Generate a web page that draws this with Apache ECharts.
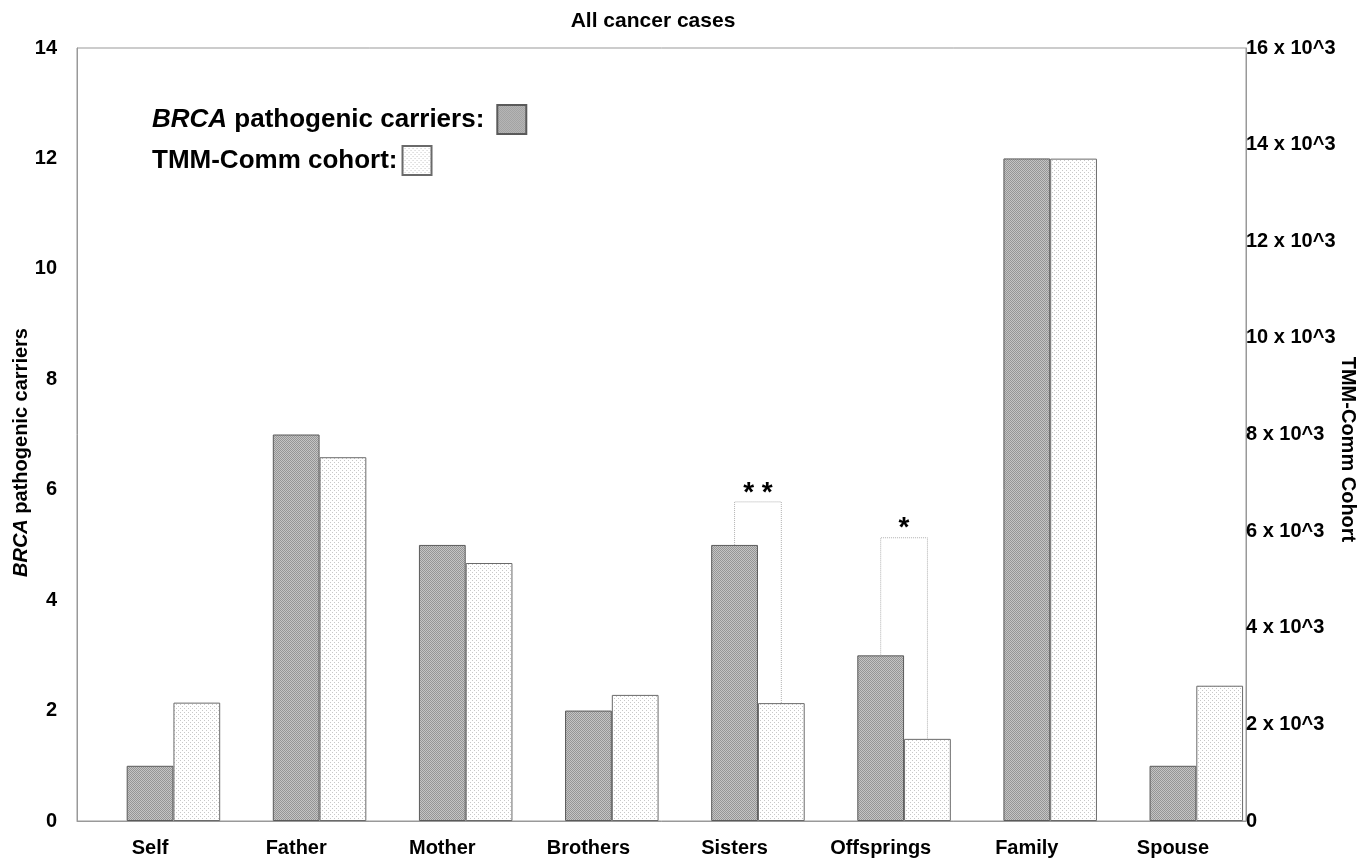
<!DOCTYPE html>
<html>
<head>
<meta charset="utf-8">
<script src="https://cdn.jsdelivr.net/npm/echarts@6/dist/echarts.min.js"></script>
<style>
html,body{margin:0;padding:0;background:#fff;}
#chart{width:1372px;height:858px;}
</style>
</head>
<body>
<div id="chart"></div>
<script>
const categories = ['Self', 'Father', 'Mother', 'Brothers', 'Sisters', 'Offsprings', 'Family', 'Spouse'];
const carriers = [1, 7, 5, 2, 5, 3, 12, 1];
const tmmCohort = [2450, 7530, 5340, 2610, 2440, 1700, 13710, 2800];
const bracketCats = [4, 5];
const bracketTops = [5.78, 5.13];
const bracketLabels = ['* *', '*'];
const leftMax = 14;
const rightMax = 16000;

function makePattern(kind) {
  const c = document.createElement('canvas');
  if (kind === 'dark') {
    c.width = 2; c.height = 2;
    const g = c.getContext('2d');
    g.fillStyle = '#c4c4c4'; g.fillRect(0, 0, 2, 2);
    g.fillStyle = '#959595'; g.fillRect(0, 0, 1, 1); g.fillRect(1, 1, 1, 1);
  } else {
    c.width = 4; c.height = 4;
    const g = c.getContext('2d');
    g.fillStyle = '#ffffff'; g.fillRect(0, 0, 4, 4);
    g.fillStyle = '#c8c8c8'; g.fillRect(0, 0, 1, 1); g.fillRect(2, 2, 1, 1);
  }
  return { image: c, repeat: 'repeat' };
}

const chart = echarts.init(document.getElementById('chart'));
const BW = 0.32;
const font = 'Liberation Sans, Arial, sans-serif';
function legendText(pad) {
  return {
    fontFamily: font, fontWeight: 'bold', fontSize: 26, color: '#000', padding: pad,
    rich: { i: { fontFamily: font, fontWeight: 'bold', fontStyle: 'italic', fontSize: 26, color: '#000' } }
  };
}
const tickFont = { fontFamily: font, fontWeight: 'bold', fontSize: 20, color: '#000' };

chart.setOption({
  backgroundColor: '#fff',
  animation: false,
  title: {
    text: 'All cancer cases', left: 648, textAlign: 'center', top: 6,
    textStyle: { fontFamily: font, fontWeight: 'bold', fontSize: 21, color: '#000' }
  },
  legend: [
    {
      data: ['BRCA pathogenic carriers'], left: 147, top: 99, align: 'right',
      icon: 'rect', itemWidth: 29, itemHeight: 29, selectedMode: false,
      formatter: function () { return '{i|BRCA} pathogenic carriers:'; },
      textStyle: legendText([0, 8, 0, 0])
    },
    {
      data: ['TMM-Comm cohort'], left: 147, top: 140, align: 'right',
      icon: 'rect', itemWidth: 29, itemHeight: 29, selectedMode: false,
      formatter: function () { return 'TMM-Comm cohort:'; },
      textStyle: legendText([0, 0, 0, 0])
    }
  ],
  grid: {
    left: 77, right: 126, top: 48, bottom: 37, show: true, borderColor: '#999', borderWidth: 1,
    outerBoundsMode: 'none', containLabel: false
  },
  xAxis: {
    type: 'category', data: categories,
    axisLine: { lineStyle: { color: '#999', width: 1 } },
    axisTick: { show: false },
    axisLabel: Object.assign({ margin: 17 }, tickFont)
  },
  yAxis: [
    {
      type: 'value', min: 0, max: leftMax, interval: 2,
      name: '{i|BRCA} pathogenic carriers', nameLocation: 'middle', nameGap: 46, nameRotate: 90,
      nameMoveOverlap: false,
      nameTextStyle: {
        fontFamily: font, fontWeight: 'bold', fontSize: 20, color: '#000', padding: [0, 36, 0, 0],
        rich: { i: { fontFamily: font, fontWeight: 'bold', fontStyle: 'italic', fontSize: 20, color: '#000' } }
      },
      axisLine: { show: true, lineStyle: { color: '#999' } },
      axisTick: { show: false }, splitLine: { show: false },
      axisLabel: Object.assign({ margin: 20 }, tickFont)
    },
    {
      type: 'value', min: 0, max: rightMax, interval: 2000, position: 'right',
      name: 'TMM-Comm Cohort', nameLocation: 'middle', nameGap: 92, nameRotate: -90,
      nameMoveOverlap: false,
      nameTextStyle: { fontFamily: font, fontWeight: 'bold', fontSize: 20, color: '#000', padding: [0, 0, 0, 30] },
      axisLine: { show: true, lineStyle: { color: '#999' } },
      axisTick: { show: false }, splitLine: { show: false },
      axisLabel: Object.assign({
        margin: 0,
        formatter: function (v) { return v === 0 ? '0' : (v / 1000) + ' x 10^3'; }
      }, tickFont)
    }
  ],
  series: [
    {
      name: 'spacer', type: 'bar', yAxisIndex: 0, barWidth: (BW * 100) + '%', barGap: 0,
      data: categories.map(() => 0), silent: true,
      itemStyle: { color: 'rgba(0,0,0,0)', borderWidth: 0 }
    },
    {
      name: 'BRCA pathogenic carriers', type: 'bar', yAxisIndex: 0, barWidth: (BW * 100) + '%', barGap: 0,
      data: carriers,
      itemStyle: { color: makePattern('dark'), borderColor: '#5a5a5a', borderWidth: 1 }
    },
    {
      name: 'TMM-Comm cohort', type: 'bar', yAxisIndex: 1, barWidth: (BW * 100) + '%', barGap: 0,
      data: tmmCohort,
      itemStyle: { color: makePattern('light'), borderColor: '#6a6a6a', borderWidth: 1 }
    },
    {
      name: 'brackets', type: 'custom', xAxisIndex: 0, yAxisIndex: 0, silent: true, z: 5,
      data: bracketCats.map((c, i) => [c, bracketTops[i], i]),
      renderItem: function (params, api) {
        const ci = api.value(0);
        const top = api.coord([ci, api.value(1)]);
        const bw = api.size([1, 0])[0] * BW;
        const x1 = top[0];
        const x2 = top[0] + bw;
        const yDark = api.coord([ci, carriers[ci]])[1];
        const yLight = api.coord([ci, tmmCohort[ci] * leftMax / rightMax])[1];
        const label = bracketLabels[api.value(2)];
        return {
          type: 'group',
          children: [
            {
              type: 'polyline',
              shape: { points: [[x1, yDark], [x1, top[1]], [x2, top[1]], [x2, yLight]] },
              style: { stroke: '#b0b0b0', lineWidth: 1, lineDash: [1, 1], fill: null }
            },
            {
              type: 'text',
              style: {
                text: label, x: (x1 + x2) / 2, y: top[1] - 9,
                textAlign: 'center', textVerticalAlign: 'middle',
                font: 'bold 28px Liberation Sans, Arial, sans-serif', fill: '#000'
              }
            }
          ]
        };
      }
    }
  ]
});
</script>
</body>
</html>
